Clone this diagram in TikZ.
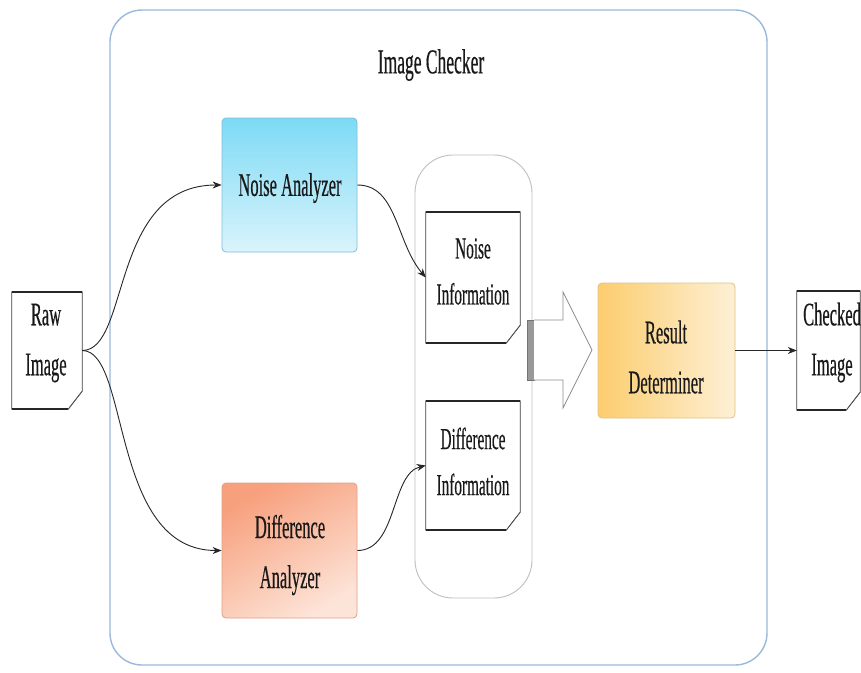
\documentclass[tikz,border=0pt]{standalone}
\usepackage{fontspec}
\setmainfont{Liberation Serif}[FakeStretch=0.5,FakeBold=0.4]
\usetikzlibrary{arrows.meta}

\definecolor{frameblue}{RGB}{155,185,218}
\definecolor{noisetop}{RGB}{125,218,245}
\definecolor{noisebot}{RGB}{218,244,252}
\definecolor{noiseedge}{RGB}{130,190,215}
\definecolor{difftop}{RGB}{247,160,125}
\definecolor{diffbot}{RGB}{253,228,216}
\definecolor{diffedge}{RGB}{225,160,135}
\definecolor{resleft}{RGB}{252,205,110}
\definecolor{resright}{RGB}{253,240,214}
\definecolor{resedge}{RGB}{225,195,130}

% document shape with a folded bottom-right corner, drawn around a named node
\newcommand\pagefold[1]{%
  \draw[black!75, line width=0.8pt, fill=white]
    (#1.north west) -- (#1.north east) -- ([yshift=18pt]#1.south east)
    -- ([xshift=-14pt]#1.south east) -- (#1.south west) -- cycle;
  \draw[black!85, line width=1.6pt] (#1.north west) -- (#1.north east);
  \draw[black!85, line width=1.6pt] (#1.south west) -- ([xshift=-14pt]#1.south east);
  \draw[black!70, line width=0.6pt, fill=black!10]
    ([xshift=-14pt]#1.south east) -- ([xshift=-4pt,yshift=13pt]#1.south east)
    -- ([yshift=18pt]#1.south east) -- cycle;
}

\begin{document}
\begin{tikzpicture}[x=1pt,y=-1pt,
  lbl/.style={font=\fontsize{33}{50}\selectfont, align=center, inner sep=0pt, text=black!90},
  infolbl/.style={lbl, font=\fontsize{30.5}{46}\selectfont},
  docbox/.style={draw=none, inner sep=0pt},
  flow/.style={draw=black!85, line width=0.9pt, -{Stealth[length=9pt,width=7pt]}},
  unit/.style={rounded corners=4pt, inner sep=0pt, line width=0.8pt},
]
\useasboundingbox (0,0) rectangle (861,672);

% outer frame of the checker
\node[draw=frameblue, line width=1.4pt, rounded corners=32pt, fill=white,
      minimum width=657pt, minimum height=655pt] (checker) at (438.5,337.5) {};
\node[lbl, font=\fontsize{35}{40}\selectfont] (title) at (431,65) {Image Checker};

% analyzers
\node[unit, draw=noiseedge, top color=noisetop, bottom color=noisebot,
      minimum width=135pt, minimum height=134pt] (noise) at (289.5,185) {};
\node[lbl] (noise-t) at (290,188) {Noise Analyzer};

\node[unit, draw=diffedge, top color=difftop, bottom color=diffbot, shading angle=30,
      minimum width=135pt, minimum height=135pt] (diff) at (289.5,550.5) {};
\node[lbl] (diff-t) at (290,555) {Difference\\Analyzer};

% container of the information documents
\node[draw=black!25, line width=0.9pt, rounded corners=38pt,
      minimum width=117pt, minimum height=443pt] (store) at (473.5,376.5) {};

\node[docbox, minimum width=94pt, minimum height=131pt] (ninfo) at (473,277.5) {};
\pagefold{ninfo}
\node[infolbl] (ninfo-t) at (473,271.5) {Noise\\Information};

\node[docbox, minimum width=94pt, minimum height=129pt] (dinfo) at (473,465.5) {};
\pagefold{dinfo}
\node[infolbl] (dinfo-t) at (473,461.5) {Difference\\Information};

% block arrow into the determiner
\draw[black!55, line width=0.8pt, fill=black!40] (527,320) rectangle (534,380);
\draw[black!45, line width=0.8pt, fill=white]
  (534,320) -- (563,320) -- (563,292) -- (592,350) -- (563,408) -- (563,380) -- (534,380);

% result determiner
\node[unit, draw=resedge, left color=resleft, right color=resright,
      minimum width=137pt, minimum height=135pt] (result) at (666.5,350.5) {};
\node[lbl] (result-t) at (666,357) {Result\\Determiner};

% input and output documents
\node[docbox, minimum width=70pt, minimum height=117pt] (raw) at (47,350.5) {};
\pagefold{raw}
\node[lbl] (raw-t) at (46,343) {Raw\\Image};

\node[docbox, minimum width=63pt, minimum height=119pt] (checked) at (828.5,350.5) {};
\pagefold{checked}
\node[lbl] (checked-t) at (832,342.5) {Checked\\Image};

% connectors
\draw[flow] (raw.east) .. controls +(48,0) and +(-112,0) .. (noise.west);
\draw[flow] (raw.east) .. controls +(48,0) and +(-112,0) .. (diff.west);
\draw[flow] (noise.east) .. controls +(40,0) and +(-30,-35) .. (ninfo.west);
\draw[flow] (diff.east) .. controls +(40,0) and +(-35,8) .. (dinfo.west);
\draw[flow] (result.east) -- (checked.west);
\end{tikzpicture}
\end{document}
